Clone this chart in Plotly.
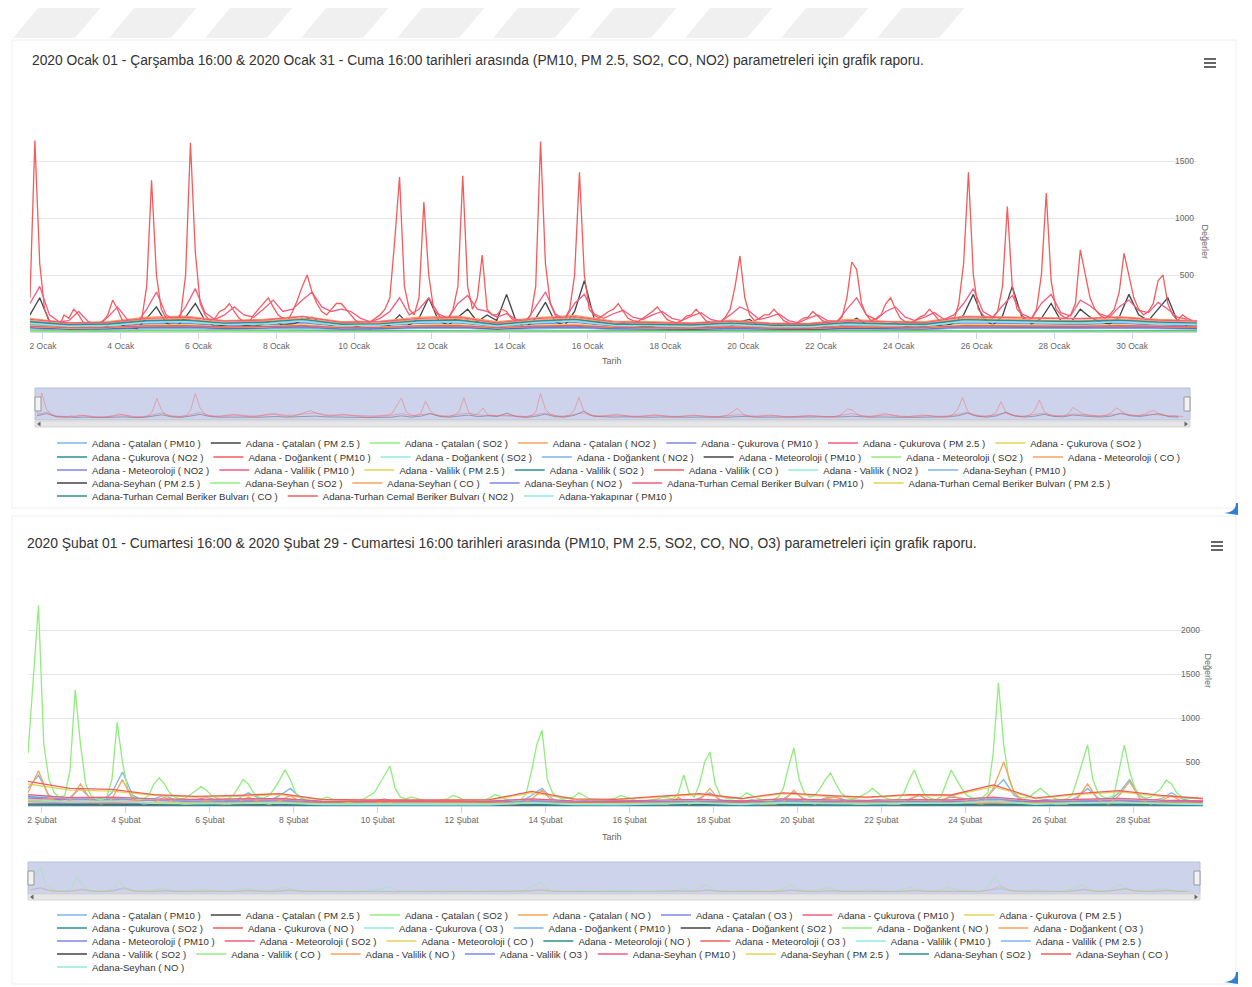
import pandas as pd
import plotly.graph_objects as go

# The page body has an 8px margin, so the figure is drawn 8px smaller and
# reference pixel positions are shifted by that offset.
OFF = 8
W, H = 1252 - OFF, 987 - OFF
def fx(p): return (p - OFF) / W
def fy(p): return 1 - (p - OFF) / H

FONT = "Liberation Sans"
HC = ["#7cb5ec", "#434348", "#90ed7d", "#f7a35c", "#8085e9",
      "#f15c80", "#e4d354", "#2b908f", "#f45b5b", "#91e8e1"]

# ---------------- January (top chart) ----------------
TOP_TITLE = ("2020 Ocak 01 - Çarşamba 16:00 & 2020 Ocak 31 - Cuma 16:00 tarihleri arasında "
             "(PM10, PM 2.5, SO2, CO, NO2) parametreleri için grafik raporu.")
JAN_START = "2020-01-01 16:00"
JAN_END = "2020-01-31 16:00"
JAN_TICK_DATES = ["2020-01-02", "2020-01-04", "2020-01-06", "2020-01-08", "2020-01-10",
                  "2020-01-12", "2020-01-14", "2020-01-16", "2020-01-18", "2020-01-20",
                  "2020-01-22", "2020-01-24", "2020-01-26", "2020-01-28", "2020-01-30"]
JAN_TICK_TEXT = ["2 Ocak", "4 Ocak", "6 Ocak", "8 Ocak", "10 Ocak", "12 Ocak", "14 Ocak",
                 "16 Ocak", "18 Ocak", "20 Ocak", "22 Ocak", "24 Ocak", "26 Ocak",
                 "28 Ocak", "30 Ocak"]
TOP_Y_TICKS = [500, 1000, 1500, 2000]
TOP_Y_TEXT = ["500", "1000", "1500", ""]

# 3-hourly (16,19,22,01,04,07,10,13) per day, starting Jan 1 16:00
jan_valilik_co = [
    [300, 1680, 600, 200, 100, 60, 50, 150],
    [120, 200, 150, 80, 50, 40, 60, 90],
    [150, 280, 200, 100, 60, 50, 70, 120],
    [400, 1330, 500, 200, 120, 80, 100, 150],
    [500, 1660, 700, 250, 150, 100, 120, 180],
    [200, 250, 180, 120, 90, 80, 150, 200],
    [250, 300, 220, 150, 120, 100, 180, 280],
    [400, 500, 350, 250, 180, 150, 200, 250],
    [250, 200, 150, 100, 80, 70, 90, 120],
    [150, 200, 300, 800, 1360, 400, 200, 150],
    [300, 1140, 500, 200, 150, 100, 120, 200],
    [400, 1370, 400, 200, 300, 675, 200, 150],
    [150, 200, 180, 120, 90, 80, 100, 150],
    [400, 1670, 600, 250, 150, 100, 120, 200],
    [500, 1400, 500, 200, 150, 120, 150, 180],
    [200, 250, 180, 120, 100, 90, 120, 150],
    [180, 220, 160, 110, 90, 80, 100, 140],
    [150, 200, 150, 100, 80, 70, 90, 130],
    [200, 400, 667, 300, 150, 100, 120, 150],
    [150, 200, 150, 100, 80, 70, 90, 120],
    [130, 180, 140, 100, 80, 70, 90, 130],
    [300, 614, 550, 250, 150, 100, 120, 150],
    [250, 300, 200, 120, 90, 80, 100, 130],
    [150, 200, 150, 100, 80, 80, 100, 250],
    [600, 1400, 500, 200, 150, 100, 120, 180],
    [400, 1100, 400, 200, 150, 100, 120, 200],
    [500, 1220, 450, 200, 150, 120, 150, 250],
    [720, 500, 300, 200, 150, 120, 150, 200],
    [350, 690, 500, 300, 200, 150, 180, 250],
    [450, 500, 250, 150, 100, 150, 120, 100],
]
# 6-hourly (16,22,04,10)
jan_valilik_pm10 = [
    [250, 400, 150, 90], [100, 180, 90, 70], [130, 220, 110, 80], [200, 350, 150, 100],
    [220, 380, 170, 110], [150, 220, 150, 130], [200, 280, 180, 200], [280, 350, 220, 180],
    [200, 180, 120, 90], [120, 180, 300, 150], [200, 300, 160, 120], [250, 320, 200, 180],
    [130, 160, 110, 90], [220, 350, 160, 110], [250, 330, 160, 120], [160, 190, 130, 110],
    [150, 180, 120, 100], [140, 170, 110, 90], [150, 220, 180, 110], [130, 160, 100, 80],
    [120, 150, 100, 90], [200, 300, 150, 110], [180, 220, 130, 100], [130, 170, 110, 150],
    [250, 380, 180, 130], [230, 320, 160, 120], [250, 330, 170, 140], [280, 230, 160, 130],
    [220, 280, 190, 170], [260, 200, 130, 110],
]
jan_meteo_pm10 = [
    [150, 300, 90, 40], [40, 60, 35, 30], [50, 80, 40, 30], [120, 220, 80, 40],
    [130, 250, 100, 50], [60, 80, 60, 50], [70, 100, 60, 70], [100, 130, 80, 60],
    [70, 60, 40, 30], [40, 60, 150, 60], [120, 300, 100, 60], [130, 200, 90, 150],
    [100, 330, 90, 40], [120, 260, 90, 60], [180, 450, 120, 70], [60, 80, 60, 50],
    [50, 70, 50, 40], [50, 60, 40, 30], [50, 90, 110, 50], [50, 60, 40, 30],
    [40, 60, 40, 40], [80, 120, 70, 50], [70, 80, 50, 40], [50, 70, 50, 80],
    [150, 330, 120, 60], [140, 400, 130, 70], [120, 250, 100, 80], [200, 130, 90, 70],
    [130, 330, 150, 100], [200, 300, 90, 60],
]
# daily values at 16:00
jan_catalan_pm10 = [70, 45, 50, 80, 85, 60, 70, 90, 55, 60, 85, 90, 50, 80, 95, 55, 50, 45, 60, 45, 40, 60, 55, 50, 90, 85, 80, 75, 85, 70, 60]
jan_catalan_pm25 = [45, 25, 30, 50, 55, 35, 40, 55, 30, 35, 55, 60, 30, 50, 60, 30, 28, 25, 35, 25, 22, 35, 30, 28, 55, 50, 50, 45, 50, 40, 35]
jan_catalan_so2 = [12, 10, 10, 12, 13, 11, 12, 14, 10, 10, 12, 13, 10, 12, 13, 10, 10, 9, 11, 10, 9, 11, 10, 10, 13, 12, 12, 12, 13, 11, 10]
jan_catalan_no2 = [40, 30, 32, 42, 45, 35, 38, 45, 30, 32, 44, 46, 30, 42, 46, 32, 30, 28, 35, 28, 26, 36, 32, 30, 45, 44, 42, 40, 44, 38, 34]
jan_cukurova_pm10 = [60, 40, 45, 70, 75, 55, 60, 80, 50, 55, 75, 80, 45, 70, 85, 50, 45, 40, 55, 40, 35, 55, 50, 45, 80, 75, 70, 65, 75, 60, 55]
jan_cukurova_pm25 = [35, 22, 25, 40, 42, 30, 34, 45, 27, 30, 42, 45, 25, 40, 48, 28, 25, 22, 30, 22, 20, 30, 27, 25, 45, 42, 40, 37, 42, 34, 30]
jan_cukurova_so2 = [8, 6, 6, 8, 9, 7, 8, 9, 6, 7, 8, 9, 6, 8, 9, 6, 6, 5, 7, 6, 5, 7, 6, 6, 9, 8, 8, 8, 9, 7, 6]
jan_cukurova_no2 = [35, 25, 27, 38, 40, 30, 33, 40, 26, 28, 38, 40, 26, 37, 41, 28, 26, 24, 30, 24, 22, 31, 28, 26, 40, 38, 37, 35, 39, 33, 30]
jan_dogankent_pm10 = [90, 60, 65, 100, 110, 80, 90, 120, 70, 75, 100, 110, 65, 100, 115, 70, 65, 60, 75, 60, 55, 80, 70, 65, 110, 100, 100, 95, 105, 90, 80]
jan_dogankent_so2 = [15, 12, 12, 15, 16, 13, 14, 16, 12, 12, 15, 16, 12, 15, 16, 12, 12, 11, 13, 12, 11, 13, 12, 12, 16, 15, 15, 14, 15, 13, 12]
jan_dogankent_no2 = [30, 22, 24, 32, 34, 26, 28, 34, 22, 24, 32, 34, 22, 31, 35, 24, 22, 20, 26, 20, 19, 27, 24, 22, 34, 32, 31, 30, 33, 28, 26]
jan_meteo_so2 = [10, 8, 8, 10, 11, 9, 10, 11, 8, 8, 10, 11, 8, 10, 11, 8, 8, 7, 9, 8, 7, 9, 8, 8, 11, 10, 10, 10, 11, 9, 8]
jan_meteo_co = [120, 80, 90, 130, 140, 100, 110, 140, 90, 95, 130, 140, 90, 125, 145, 95, 90, 80, 105, 80, 75, 110, 95, 90, 140, 130, 125, 120, 135, 110, 100]
jan_meteo_no2 = [38, 28, 30, 40, 42, 33, 36, 42, 28, 30, 40, 42, 28, 39, 43, 30, 28, 26, 33, 26, 24, 34, 30, 28, 42, 40, 39, 37, 41, 35, 32]
jan_valilik_pm25 = [55, 35, 38, 60, 65, 45, 50, 65, 40, 42, 60, 65, 38, 58, 68, 42, 38, 35, 45, 35, 32, 48, 42, 38, 65, 60, 58, 55, 62, 50, 45]
jan_valilik_so2 = [14, 11, 11, 14, 15, 12, 13, 15, 11, 11, 14, 15, 11, 14, 15, 11, 11, 10, 12, 11, 10, 12, 11, 11, 15, 14, 14, 13, 14, 12, 11]
jan_valilik_no2 = [45, 35, 37, 48, 50, 40, 43, 50, 35, 37, 48, 50, 35, 47, 52, 37, 35, 32, 40, 32, 30, 42, 37, 35, 50, 48, 46, 45, 49, 42, 40]
jan_seyhan_pm10 = [80, 55, 60, 90, 95, 70, 75, 100, 60, 65, 90, 95, 55, 88, 100, 62, 58, 52, 68, 52, 48, 70, 62, 58, 98, 92, 88, 85, 94, 78, 70]
jan_seyhan_pm25 = [40, 28, 30, 45, 48, 35, 38, 50, 30, 32, 45, 48, 28, 44, 50, 31, 29, 26, 34, 26, 24, 35, 31, 29, 49, 46, 44, 42, 47, 39, 35]
jan_seyhan_so2 = [9, 7, 7, 9, 10, 8, 8, 10, 7, 7, 9, 10, 7, 9, 10, 7, 7, 6, 8, 7, 6, 8, 7, 7, 10, 9, 9, 9, 10, 8, 7]
jan_seyhan_co = [100, 70, 75, 110, 120, 85, 95, 120, 75, 80, 110, 120, 75, 105, 125, 80, 75, 70, 90, 70, 65, 95, 80, 75, 120, 110, 105, 100, 115, 95, 85]
jan_seyhan_no2 = [42, 32, 34, 45, 47, 37, 40, 47, 32, 34, 45, 47, 32, 44, 48, 34, 32, 30, 37, 30, 28, 39, 34, 32, 47, 45, 43, 42, 46, 39, 36]
jan_tcbb_pm10 = [110, 80, 85, 120, 130, 95, 105, 135, 85, 90, 120, 130, 80, 118, 135, 88, 82, 75, 95, 75, 70, 100, 88, 82, 132, 125, 120, 115, 128, 105, 95]
jan_tcbb_pm25 = [50, 35, 38, 55, 58, 42, 46, 60, 38, 40, 55, 58, 36, 53, 60, 40, 37, 34, 43, 34, 31, 45, 40, 37, 59, 56, 54, 52, 57, 47, 43]
jan_tcbb_co = [90, 65, 70, 100, 105, 78, 85, 110, 68, 72, 100, 105, 66, 96, 110, 70, 66, 62, 78, 62, 58, 82, 72, 68, 108, 100, 96, 92, 104, 86, 78]
jan_tcbb_no2 = [50, 38, 40, 54, 56, 44, 48, 56, 38, 40, 54, 56, 38, 52, 58, 40, 38, 35, 44, 35, 33, 46, 40, 38, 56, 54, 52, 50, 55, 47, 44]
jan_yakapinar_pm10 = [75, 50, 55, 85, 90, 65, 70, 95, 55, 60, 85, 90, 52, 82, 95, 58, 54, 48, 64, 48, 45, 66, 58, 54, 92, 86, 82, 78, 88, 72, 66]

# (name, values, step hours)
TOP_SERIES = [
    ("Adana - Çatalan ( PM10 )", jan_catalan_pm10, 24),
    ("Adana - Çatalan ( PM 2.5 )", jan_catalan_pm25, 24),
    ("Adana - Çatalan ( SO2 )", jan_catalan_so2, 24),
    ("Adana - Çatalan ( NO2 )", jan_catalan_no2, 24),
    ("Adana - Çukurova ( PM10 )", jan_cukurova_pm10, 24),
    ("Adana - Çukurova ( PM 2.5 )", jan_cukurova_pm25, 24),
    ("Adana - Çukurova ( SO2 )", jan_cukurova_so2, 24),
    ("Adana - Çukurova ( NO2 )", jan_cukurova_no2, 24),
    ("Adana - Doğankent ( PM10 )", jan_dogankent_pm10, 24),
    ("Adana - Doğankent ( SO2 )", jan_dogankent_so2, 24),
    ("Adana - Doğankent ( NO2 )", jan_dogankent_no2, 24),
    ("Adana - Meteoroloji ( PM10 )", [v for d in jan_meteo_pm10 for v in d], 6),
    ("Adana - Meteoroloji ( SO2 )", jan_meteo_so2, 24),
    ("Adana - Meteoroloji ( CO )", jan_meteo_co, 24),
    ("Adana - Meteoroloji ( NO2 )", jan_meteo_no2, 24),
    ("Adana - Valilik ( PM10 )", [v for d in jan_valilik_pm10 for v in d], 6),
    ("Adana - Valilik ( PM 2.5 )", jan_valilik_pm25, 24),
    ("Adana - Valilik ( SO2 )", jan_valilik_so2, 24),
    ("Adana - Valilik ( CO )", [v for d in jan_valilik_co for v in d], 3),
    ("Adana - Valilik ( NO2 )", jan_valilik_no2, 24),
    ("Adana-Seyhan ( PM10 )", jan_seyhan_pm10, 24),
    ("Adana-Seyhan ( PM 2.5 )", jan_seyhan_pm25, 24),
    ("Adana-Seyhan ( SO2 )", jan_seyhan_so2, 24),
    ("Adana-Seyhan ( CO )", jan_seyhan_co, 24),
    ("Adana-Seyhan ( NO2 )", jan_seyhan_no2, 24),
    ("Adana-Turhan Cemal Beriker Bulvarı ( PM10 )", jan_tcbb_pm10, 24),
    ("Adana-Turhan Cemal Beriker Bulvarı ( PM 2.5 )", jan_tcbb_pm25, 24),
    ("Adana-Turhan Cemal Beriker Bulvarı ( CO )", jan_tcbb_co, 24),
    ("Adana-Turhan Cemal Beriker Bulvarı ( NO2 )", jan_tcbb_no2, 24),
    ("Adana-Yakapınar ( PM10 )", jan_yakapinar_pm10, 24),
]
TOP_ROWS = [7, 7, 7, 6, 3]

# ---------------- February (bottom chart) ----------------
BOT_TITLE = ("2020 Şubat 01 - Cumartesi 16:00 & 2020 Şubat 29 - Cumartesi 16:00 tarihleri arasında "
             "(PM10, PM 2.5, SO2, CO, NO, O3) parametreleri için grafik raporu.")
FEB_START = "2020-02-01 16:00"
FEB_END = "2020-02-29 16:00"
FEB_TICK_DATES = ["2020-02-02", "2020-02-04", "2020-02-06", "2020-02-08", "2020-02-10",
                  "2020-02-12", "2020-02-14", "2020-02-16", "2020-02-18", "2020-02-20",
                  "2020-02-22", "2020-02-24", "2020-02-26", "2020-02-28"]
FEB_TICK_TEXT = ["2 Şubat", "4 Şubat", "6 Şubat", "8 Şubat", "10 Şubat", "12 Şubat",
                 "14 Şubat", "16 Şubat", "18 Şubat", "20 Şubat", "22 Şubat", "24 Şubat",
                 "26 Şubat", "28 Şubat"]
BOT_Y_TICKS = [500, 1000, 1500, 2000, 2500]
BOT_Y_TEXT = ["500", "1000", "1500", "2000", ""]

feb_valilik_co = [
    [600, 1500, 2280, 700, 300, 150, 100, 120],
    [400, 1320, 700, 250, 120, 80, 70, 100],
    [300, 950, 500, 200, 100, 70, 80, 120],
    [250, 320, 250, 150, 100, 80, 90, 130],
    [180, 220, 180, 120, 90, 70, 80, 110],
    [200, 300, 250, 150, 100, 90, 120, 200],
    [300, 410, 300, 150, 100, 70, 60, 70],
    [80, 100, 80, 60, 50, 40, 50, 60],
    [80, 120, 150, 250, 350, 455, 200, 100],
    [80, 100, 90, 70, 60, 50, 60, 70],
    [80, 120, 100, 70, 60, 50, 60, 70],
    [90, 130, 110, 80, 60, 50, 70, 150],
    [400, 700, 860, 300, 150, 100, 80, 90],
    [100, 150, 120, 80, 70, 60, 70, 80],
    [90, 120, 100, 80, 60, 50, 60, 70],
    [80, 100, 90, 80, 150, 352, 150, 100],
    [250, 500, 614, 250, 120, 90, 80, 90],
    [100, 150, 120, 90, 70, 60, 70, 100],
    [200, 450, 659, 300, 150, 100, 120, 200],
    [300, 375, 250, 150, 100, 80, 90, 120],
    [150, 200, 150, 100, 80, 70, 80, 150],
    [300, 410, 250, 120, 90, 70, 100, 250],
    [409, 300, 200, 120, 90, 80, 100, 150],
    [600, 1400, 700, 300, 150, 100, 90, 110],
    [150, 200, 150, 100, 80, 70, 80, 120],
    [300, 500, 693, 300, 150, 100, 90, 120],
    [400, 693, 400, 200, 120, 90, 100, 150],
    [200, 295, 250, 150, 100, 80, 90, 100],
]
feb_catalan_pm10 = [
    [200, 350, 120, 60], [100, 200, 80, 50], [150, 386, 120, 60], [80, 120, 70, 50],
    [70, 100, 60, 50], [80, 150, 90, 60], [120, 200, 90, 40], [40, 50, 35, 30],
    [40, 60, 80, 40], [35, 45, 30, 28], [35, 50, 35, 30], [40, 55, 40, 50],
    [120, 200, 80, 40], [45, 60, 40, 35], [40, 50, 35, 30], [40, 50, 80, 45],
    [90, 150, 70, 40], [50, 70, 45, 40], [80, 160, 80, 50], [90, 110, 60, 45],
    [55, 75, 50, 45], [80, 120, 60, 70], [100, 90, 60, 50], [180, 300, 120, 60],
    [55, 75, 50, 45], [100, 200, 90, 55], [150, 300, 110, 60], [80, 150, 80, 50],
]
feb_valilik_no = [
    [150, 400, 100, 30], [60, 250, 60, 20], [80, 300, 70, 20], [40, 100, 40, 15],
    [30, 60, 30, 12], [40, 100, 50, 15], [60, 120, 40, 10], [10, 15, 10, 8],
    [10, 20, 60, 15], [8, 12, 8, 7], [10, 15, 10, 8], [12, 20, 12, 30],
    [80, 180, 50, 15], [15, 25, 12, 10], [10, 15, 10, 8], [12, 20, 100, 20],
    [60, 200, 50, 15], [20, 35, 18, 12], [50, 180, 60, 20], [80, 100, 40, 15],
    [25, 45, 22, 15], [70, 130, 40, 50], [120, 80, 35, 20], [200, 500, 150, 30],
    [25, 45, 20, 15], [80, 250, 70, 20], [120, 280, 80, 20], [60, 120, 50, 15],
]
feb_catalan_pm25 = [60, 45, 50, 35, 30, 32, 38, 20, 18, 15, 16, 18, 30, 20, 18, 22, 28, 20, 30, 25, 22, 28, 26, 40, 22, 28, 32, 25, 20]
feb_catalan_so2 = [15, 12, 12, 10, 9, 9, 10, 8, 8, 7, 7, 8, 10, 8, 8, 9, 10, 8, 10, 9, 8, 9, 9, 11, 8, 9, 10, 9, 8]
feb_catalan_no = [80, 50, 60, 30, 25, 28, 35, 15, 12, 10, 12, 14, 40, 15, 14, 25, 35, 18, 40, 28, 22, 32, 30, 60, 20, 35, 45, 25, 18]
feb_catalan_o3 = [30, 35, 38, 45, 50, 48, 45, 55, 58, 60, 58, 55, 45, 55, 58, 52, 48, 55, 45, 50, 52, 48, 50, 40, 55, 48, 45, 50, 55]
feb_cukurova_pm10 = [90, 70, 75, 60, 55, 58, 65, 40, 38, 35, 36, 40, 60, 42, 40, 50, 58, 42, 62, 52, 48, 55, 52, 75, 45, 58, 65, 50, 42]
feb_cukurova_pm25 = [45, 35, 38, 30, 27, 28, 32, 20, 18, 17, 18, 20, 30, 21, 20, 25, 29, 21, 31, 26, 24, 27, 26, 37, 22, 29, 32, 25, 21]
feb_cukurova_so2 = [12, 10, 10, 8, 8, 8, 9, 7, 7, 6, 6, 7, 9, 7, 7, 8, 8, 7, 9, 8, 7, 8, 8, 10, 7, 8, 9, 8, 7]
feb_cukurova_no = [70, 45, 50, 28, 22, 25, 30, 14, 12, 10, 11, 13, 35, 14, 13, 22, 30, 16, 35, 25, 20, 28, 27, 55, 18, 32, 40, 22, 16]
feb_cukurova_o3 = [28, 32, 35, 42, 46, 45, 42, 52, 55, 57, 55, 52, 42, 52, 55, 49, 45, 52, 42, 47, 49, 45, 47, 37, 52, 45, 42, 47, 52]
feb_dogankent_pm10 = [100, 80, 85, 65, 60, 62, 70, 45, 42, 40, 42, 45, 68, 48, 45, 55, 62, 47, 68, 58, 52, 60, 57, 82, 50, 64, 72, 55, 47]
feb_dogankent_so2 = [18, 14, 15, 12, 11, 11, 12, 9, 9, 8, 8, 9, 12, 9, 9, 10, 11, 9, 12, 10, 10, 11, 10, 13, 9, 11, 12, 10, 9]
feb_dogankent_no = [60, 40, 45, 25, 20, 22, 28, 12, 10, 9, 10, 12, 30, 12, 11, 20, 26, 14, 30, 22, 18, 25, 24, 48, 16, 28, 35, 20, 14]
feb_dogankent_o3 = [25, 30, 32, 40, 44, 42, 40, 50, 52, 55, 52, 50, 40, 50, 52, 47, 43, 50, 40, 45, 47, 43, 45, 35, 50, 43, 40, 45, 50]
feb_meteo_pm10 = [110, 85, 90, 70, 65, 68, 75, 48, 45, 42, 44, 48, 72, 50, 48, 58, 66, 50, 72, 62, 56, 64, 60, 88, 54, 68, 76, 58, 50]
feb_meteo_so2 = [14, 11, 12, 10, 9, 9, 10, 8, 8, 7, 7, 8, 10, 8, 8, 9, 9, 8, 10, 9, 8, 9, 9, 11, 8, 9, 10, 9, 8]
feb_meteo_co = [250, 180, 170, 120, 100, 110, 130, 70, 65, 60, 62, 68, 150, 75, 70, 100, 130, 80, 140, 110, 95, 120, 115, 220, 85, 130, 160, 110, 80]
feb_meteo_no = [65, 42, 48, 26, 21, 23, 29, 13, 11, 9, 10, 12, 32, 13, 12, 21, 28, 15, 32, 24, 19, 27, 25, 52, 17, 30, 38, 21, 15]
feb_meteo_o3 = [27, 31, 34, 41, 45, 44, 41, 51, 54, 56, 54, 51, 41, 51, 54, 48, 44, 51, 41, 46, 48, 44, 46, 36, 51, 44, 41, 46, 51]
feb_valilik_pm10 = [120, 90, 95, 75, 70, 72, 80, 52, 48, 45, 47, 52, 78, 54, 52, 62, 70, 54, 78, 66, 60, 68, 65, 95, 58, 72, 82, 62, 54]
feb_valilik_pm25 = [55, 42, 45, 35, 32, 33, 37, 24, 22, 21, 22, 24, 36, 25, 24, 29, 33, 25, 36, 31, 28, 32, 30, 44, 27, 34, 38, 29, 25]
feb_valilik_so2 = [16, 13, 13, 11, 10, 10, 11, 8, 8, 7, 8, 8, 11, 9, 8, 10, 10, 9, 11, 10, 9, 10, 10, 12, 9, 10, 11, 10, 9]
feb_valilik_o3 = [26, 30, 33, 40, 44, 43, 40, 50, 53, 55, 53, 50, 40, 50, 53, 47, 43, 50, 40, 45, 47, 43, 45, 35, 50, 43, 40, 45, 50]
feb_seyhan_pm10 = [130, 95, 100, 80, 75, 78, 85, 55, 52, 48, 50, 55, 82, 58, 55, 66, 75, 57, 82, 70, 64, 72, 68, 100, 62, 76, 86, 66, 57]
feb_seyhan_pm25 = [60, 45, 48, 38, 35, 36, 40, 26, 24, 23, 24, 26, 39, 27, 26, 31, 36, 27, 39, 33, 30, 34, 32, 47, 29, 36, 41, 31, 27]
feb_seyhan_so2 = [13, 10, 11, 9, 8, 8, 9, 7, 7, 6, 7, 7, 9, 7, 7, 8, 8, 7, 9, 8, 8, 8, 8, 10, 7, 8, 9, 8, 7]
feb_seyhan_co = [280, 200, 190, 130, 110, 120, 140, 75, 70, 65, 68, 72, 165, 80, 75, 110, 140, 85, 150, 120, 100, 130, 125, 240, 90, 140, 175, 120, 85]
feb_seyhan_no = [75, 48, 55, 30, 24, 26, 33, 15, 13, 11, 12, 14, 37, 15, 14, 24, 32, 17, 37, 27, 22, 31, 29, 58, 19, 34, 43, 24, 17]

BOT_SERIES = [
    ("Adana - Çatalan ( PM10 )", [v for d in feb_catalan_pm10 for v in d], 6),
    ("Adana - Çatalan ( PM 2.5 )", feb_catalan_pm25, 24),
    ("Adana - Çatalan ( SO2 )", feb_catalan_so2, 24),
    ("Adana - Çatalan ( NO )", feb_catalan_no, 24),
    ("Adana - Çatalan ( O3 )", feb_catalan_o3, 24),
    ("Adana - Çukurova ( PM10 )", feb_cukurova_pm10, 24),
    ("Adana - Çukurova ( PM 2.5 )", feb_cukurova_pm25, 24),
    ("Adana - Çukurova ( SO2 )", feb_cukurova_so2, 24),
    ("Adana - Çukurova ( NO )", feb_cukurova_no, 24),
    ("Adana - Çukurova ( O3 )", feb_cukurova_o3, 24),
    ("Adana - Doğankent ( PM10 )", feb_dogankent_pm10, 24),
    ("Adana - Doğankent ( SO2 )", feb_dogankent_so2, 24),
    ("Adana - Doğankent ( NO )", feb_dogankent_no, 24),
    ("Adana - Doğankent ( O3 )", feb_dogankent_o3, 24),
    ("Adana - Meteoroloji ( PM10 )", feb_meteo_pm10, 24),
    ("Adana - Meteoroloji ( SO2 )", feb_meteo_so2, 24),
    ("Adana - Meteoroloji ( CO )", feb_meteo_co, 24),
    ("Adana - Meteoroloji ( NO )", feb_meteo_no, 24),
    ("Adana - Meteoroloji ( O3 )", feb_meteo_o3, 24),
    ("Adana - Valilik ( PM10 )", feb_valilik_pm10, 24),
    ("Adana - Valilik ( PM 2.5 )", feb_valilik_pm25, 24),
    ("Adana - Valilik ( SO2 )", feb_valilik_so2, 24),
    ("Adana - Valilik ( CO )", [v for d in feb_valilik_co for v in d], 3),
    ("Adana - Valilik ( NO )", [v for d in feb_valilik_no for v in d], 6),
    ("Adana - Valilik ( O3 )", feb_valilik_o3, 24),
    ("Adana-Seyhan ( PM10 )", feb_seyhan_pm10, 24),
    ("Adana-Seyhan ( PM 2.5 )", feb_seyhan_pm25, 24),
    ("Adana-Seyhan ( SO2 )", feb_seyhan_so2, 24),
    ("Adana-Seyhan ( CO )", feb_seyhan_co, 24),
    ("Adana-Seyhan ( NO )", feb_seyhan_no, 24),
]
BOT_ROWS = [7, 7, 7, 8, 1]

NAV_TOP = ["Adana - Valilik ( CO )", "Adana - Valilik ( PM10 )", "Adana - Meteoroloji ( PM10 )"]
NAV_BOT = ["Adana - Valilik ( CO )", "Adana - Çatalan ( PM10 )", "Adana - Valilik ( NO )"]

fig = go.Figure()


def add_chart(series, start, rows, xa, ya, nav_xa, nav_ya, nav_names, legend_base, row_ys):
    row_of = []
    for r, n in enumerate(rows):
        row_of += [r] * n
    for i, (name, vals, step) in enumerate(series):
        t = pd.date_range(start, periods=len(vals), freq=f"{step}h")
        col = HC[i % 10]
        r = row_of[i]
        lg = "legend" if legend_base + r == 1 else f"legend{legend_base + r}"
        fig.add_trace(go.Scatter(x=t, y=vals, name=name, mode="lines",
                                 line=dict(color=col, width=1.3),
                                 xaxis=xa, yaxis=ya, legend=lg))
        if name in nav_names:
            fig.add_trace(go.Scatter(x=t, y=vals, mode="lines", showlegend=False,
                                     line=dict(color=col, width=0.8), opacity=0.5,
                                     xaxis=nav_xa, yaxis=nav_ya, hoverinfo="skip"))
    for r, yy in enumerate(row_ys):
        k = legend_base + r
        key = "legend" if k == 1 else f"legend{k}"
        fig.layout[key] = dict(x=fx(52), xanchor="left", y=fy(yy), yanchor="middle",
                               orientation="h", bgcolor="rgba(0,0,0,0)",
                               font=dict(family=FONT, size=9.6, color="#333333"),
                               itemwidth=30, tracegroupgap=0)


add_chart(TOP_SERIES, JAN_START, TOP_ROWS, "x", "y", "x3", "y3", NAV_TOP, 1,
          [443, 457, 470, 483, 496])
add_chart(BOT_SERIES, FEB_START, BOT_ROWS, "x2", "y2", "x4", "y4", NAV_BOT, 6,
          [915, 928, 941, 954, 967])

tickfont = dict(family=FONT, size=8.5, color="#666666")
xcommon = dict(showgrid=False, showline=True, linecolor="#ccd6eb", linewidth=1,
               ticks="outside", ticklen=6, tickcolor="#ccd6eb", tickfont=tickfont,
               zeroline=False, fixedrange=True)
ycommon = dict(side="right", showgrid=True, gridcolor="#e6e6e6", zeroline=False,
               ticklabelposition="inside", tickfont=tickfont, showline=False, ticks="",
               fixedrange=True)

fig.update_layout(
    width=W, height=H, margin=dict(l=0, r=0, t=0, b=0),
    paper_bgcolor="white", plot_bgcolor="rgba(0,0,0,0)",
    hovermode=False,
    xaxis=dict(domain=[fx(30), fx(1197)], range=[JAN_START, JAN_END], anchor="y",
               tickvals=JAN_TICK_DATES, ticktext=JAN_TICK_TEXT, **xcommon),
    yaxis=dict(domain=[fy(332), fy(104)], range=[0, 2000], anchor="x",
               tickvals=TOP_Y_TICKS, ticktext=TOP_Y_TEXT, **ycommon),
    xaxis2=dict(domain=[fx(28), fx(1203)], range=[FEB_START, FEB_END], anchor="y2",
                tickvals=FEB_TICK_DATES, ticktext=FEB_TICK_TEXT, **xcommon),
    yaxis2=dict(domain=[fy(806), fy(586)], range=[0, 2500], anchor="x2",
                tickvals=BOT_Y_TICKS, ticktext=BOT_Y_TEXT, **ycommon),
    xaxis3=dict(domain=[fx(37), fx(1188)], range=[JAN_START, JAN_END], anchor="y3",
                visible=False, fixedrange=True),
    yaxis3=dict(domain=[fy(418), fy(390)], range=[0, 1900], anchor="x3",
                visible=False, fixedrange=True),
    xaxis4=dict(domain=[fx(30), fx(1198)], range=[FEB_START, FEB_END], anchor="y4",
                visible=False, fixedrange=True),
    yaxis4=dict(domain=[fy(892), fy(864)], range=[0, 2500], anchor="x4",
                visible=False, fixedrange=True),
)

shapes = []
annotations = []

# decorative chevron band at the very top
for k in range(10):
    x0 = 45 + k * 96
    shapes.append(dict(type="path", xref="paper", yref="paper", layer="below",
                       path=f"M {fx(x0)},{fy(0)} L {fx(x0 + 62)},{fy(0)} L {fx(x0 + 30)},{fy(38)} L {fx(x0 - 32)},{fy(38)} Z",
                       fillcolor="#f0f0f0", line=dict(width=0)))

# card frames
for (y0, y1) in [(40, 508), (516, 984)]:
    shapes.append(dict(type="rect", xref="paper", yref="paper", layer="below",
                       x0=fx(12), x1=fx(1236), y0=fy(y1), y1=fy(y0),
                       line=dict(color="#eeeeee", width=1), fillcolor="rgba(0,0,0,0)"))

# navigators + scrollbars
for (xl, xr, yt, yb, ys) in [(35, 1190, 388, 420, 424), (28, 1200, 862, 894, 897)]:
    shapes.append(dict(type="rect", xref="paper", yref="paper", layer="below",
                       x0=fx(xl), x1=fx(xr), y0=fy(yb), y1=fy(yt),
                       fillcolor="#cdd3ea", line=dict(color="#b8c0da", width=1)))
    shapes.append(dict(type="rect", xref="paper", yref="paper", layer="below",
                       x0=fx(xl), x1=fx(xr), y0=fy(ys + 3), y1=fy(ys - 3),
                       fillcolor="#e6e6e6", line=dict(color="#d6d6d6", width=1)))
    for hx in (xl + 3, xr - 3):
        shapes.append(dict(type="rect", xref="paper", yref="paper",
                           x0=fx(hx - 3), x1=fx(hx + 3), y0=fy((yt + yb) / 2 + 7), y1=fy((yt + yb) / 2 - 7),
                           fillcolor="#f2f2f2", line=dict(color="#999999", width=1)))
    for ax, dirn in ((xl + 4, -1), (xr - 4, 1)):
        shapes.append(dict(type="path", xref="paper", yref="paper",
                           path=f"M {fx(ax + dirn * 2)},{fy(ys)} L {fx(ax - dirn * 1.5)},{fy(ys - 2.5)} L {fx(ax - dirn * 1.5)},{fy(ys + 2.5)} Z",
                           fillcolor="#666666", line=dict(width=0)))

# hamburger icons
for (cx, cy) in [(1210, 63), (1217, 546)]:
    for dy in (-4, 0, 4):
        shapes.append(dict(type="line", xref="paper", yref="paper",
                           x0=fx(cx - 6), x1=fx(cx + 6), y0=fy(cy + dy), y1=fy(cy + dy),
                           line=dict(color="#666666", width=2)))

# blue corner marks
for (cx, cy) in [(1236, 511), (1236, 980)]:
    shapes.append(dict(type="path", xref="paper", yref="paper",
                       path=f"M {fx(cx - 12)},{fy(cy + 2)} Q {fx(cx)},{fy(cy + 1)} {fx(cx)},{fy(cy - 8)} L {fx(cx + 2)},{fy(cy - 8)} L {fx(cx + 2)},{fy(cy + 4)} Z",
                       fillcolor="#2f7fd8", line=dict(width=0)))

# titles and axis titles
annotations.append(dict(text=TOP_TITLE, x=fx(30), y=fy(60), xref="paper", yref="paper",
                        xanchor="left", yanchor="middle", showarrow=False,
                        font=dict(family=FONT, size=13.8, color="#333333")))
annotations.append(dict(text=BOT_TITLE, x=fx(25), y=fy(543), xref="paper", yref="paper",
                        xanchor="left", yanchor="middle", showarrow=False,
                        font=dict(family=FONT, size=13.9, color="#333333")))
for (tx, ty) in [(612, 361), (612, 837)]:
    annotations.append(dict(text="Tarih", x=fx(tx), y=fy(ty), xref="paper", yref="paper",
                            showarrow=False, yanchor="middle",
                            font=dict(family=FONT, size=9, color="#666666")))
for (tx, ty) in [(1212, 222), (1215, 690)]:
    annotations.append(dict(text="Değerler", x=fx(tx), y=fy(ty), xref="paper", yref="paper",
                            showarrow=False, textangle=90,
                            font=dict(family=FONT, size=9, color="#666666")))

fig.update_layout(shapes=shapes, annotations=annotations)
fig.write_html("out.html")
